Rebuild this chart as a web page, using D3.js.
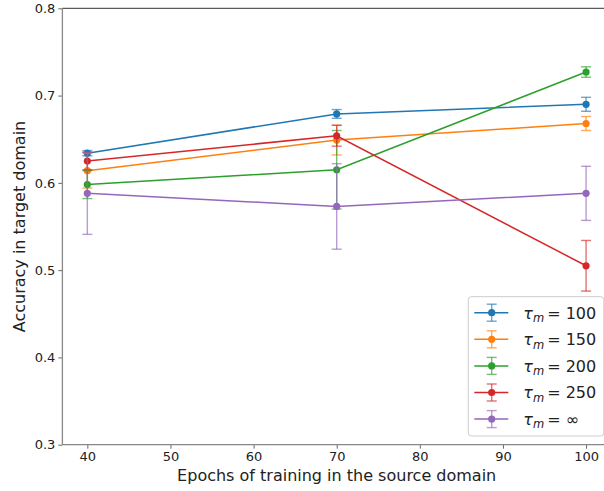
<!DOCTYPE html>
<html>
<head>
<meta charset="utf-8">
<script src="https://cdn.jsdelivr.net/npm/d3@7"></script>
<style>
  body { margin: 0; background: #fff; }
  svg { display: block; font-family: "DejaVu Sans", sans-serif; }
  .tick text { font-size: 13px; fill: #222; }
</style>
</head>
<body>
<svg id="chart" width="604" height="491"></svg>
<script>
const epochs = [40, 70, 100];
const seriesNames = ['100', '150', '200', '250', '∞'];
const colors = ['#1f77b4', '#ff7f0e', '#2ca02c', '#d62728', '#9467bd'];
const accTau100 = [0.634, 0.679, 0.690];
const accTau150 = [0.614, 0.649, 0.668];
const accTau200 = [0.598, 0.615, 0.727];
const accTau250 = [0.625, 0.654, 0.505];
const accTauInf = [0.588, 0.573, 0.588];
const errTau100 = [0.003, 0.005, 0.008];
const errTau150 = [0.020, 0.017, 0.008];
const errTau200 = [0.016, 0.045, 0.006];
const errTau250 = [0.010, 0.012, 0.029];
const errTauInf = [0.047, 0.049, 0.031];
const xTicks = [40, 50, 60, 70, 80, 90, 100];
const yTicks = [0.3, 0.4, 0.5, 0.6, 0.7, 0.8];

const accs = [accTau100, accTau150, accTau200, accTau250, accTauInf];
const errs = [errTau100, errTau150, errTau200, errTau250, errTauInf];
const series = seriesNames.map((name, i) => ({
  name, color: colors[i],
  points: epochs.map((e, j) => ({ x: e, y: accs[i][j], err: errs[i][j] })),
}));

const margin = { top: 8.3, left: 62.4 };
const width = 548.6;
const height = 436.4;

const svg = d3.select('#chart');
const g = svg.append('g').attr('transform', `translate(${margin.left},${margin.top})`);

const x = d3.scaleLinear().domain([37, 103]).range([0, width]);
const y = d3.scaleLinear().domain([0.3, 0.8]).range([height, 0]);

// axes
const xAxis = g.append('g')
  .attr('transform', `translate(0,${height})`)
  .call(d3.axisBottom(x).tickValues(xTicks).tickSize(4).tickPadding(3).tickFormat(d3.format('d')));
const yAxis = g.append('g')
  .call(d3.axisLeft(y).tickValues(yTicks).tickSize(4).tickPadding(3).tickFormat(d3.format('.1f')));
[xAxis, yAxis].forEach((a) => {
  a.select('.domain').remove();
  a.selectAll('.tick line').attr('stroke', '#555').attr('stroke-width', 0.9);
  a.selectAll('.tick text').attr('font-family', 'DejaVu Sans');
});

// spines
g.append('line').attr('x1', 0).attr('x2', width).attr('y1', 0).attr('y2', 0)
  .attr('stroke', '#333').attr('stroke-width', 1);
g.append('line').attr('x1', 0).attr('x2', 0).attr('y1', 0).attr('y2', height)
  .attr('stroke', '#888').attr('stroke-width', 1.3);
g.append('line').attr('x1', 0).attr('x2', width).attr('y1', height).attr('y2', height)
  .attr('stroke', '#888').attr('stroke-width', 1.3);

const line = d3.line().x((d) => x(d.x)).y((d) => y(d.y));
const capW = 5;

series.forEach((s) => {
  const sg = g.append('g');
  // error bars
  const eb = sg.selectAll('.eb').data(s.points).enter().append('g')
    .attr('stroke', s.color).attr('stroke-width', 1.4).attr('stroke-opacity', 0.65);
  eb.append('line')
    .attr('x1', (d) => x(d.x)).attr('x2', (d) => x(d.x))
    .attr('y1', (d) => y(d.y - d.err)).attr('y2', (d) => y(d.y + d.err));
  eb.append('line')
    .attr('x1', (d) => x(d.x) - capW).attr('x2', (d) => x(d.x) + capW)
    .attr('y1', (d) => y(d.y - d.err)).attr('y2', (d) => y(d.y - d.err));
  eb.append('line')
    .attr('x1', (d) => x(d.x) - capW).attr('x2', (d) => x(d.x) + capW)
    .attr('y1', (d) => y(d.y + d.err)).attr('y2', (d) => y(d.y + d.err));
  sg.append('path').datum(s.points)
    .attr('d', line).attr('fill', 'none')
    .attr('stroke', s.color).attr('stroke-width', 1.5);
  sg.selectAll('circle').data(s.points).enter().append('circle')
    .attr('cx', (d) => x(d.x)).attr('cy', (d) => y(d.y)).attr('r', 3.6)
    .attr('fill', s.color);
});

// axis labels
svg.append('text')
  .attr('x', margin.left + width / 2).attr('y', 481)
  .attr('text-anchor', 'middle').attr('font-size', 16).attr('fill', '#222')
  .text('Epochs of training in the source domain');
svg.append('text')
  .attr('transform', `translate(25,${margin.top + height / 2}) rotate(-90)`)
  .attr('text-anchor', 'middle').attr('font-size', 16).attr('fill', '#222')
  .text('Accuracy in target domain');

// legend
const lg = svg.append('g').attr('transform', 'translate(468.3,296.7)');
lg.append('rect').attr('width', 135.5).attr('height', 139.3).attr('rx', 3)
  .attr('fill', '#fff').attr('fill-opacity', 0.85)
  .attr('stroke', '#ccc').attr('stroke-width', 1);
const items = lg.selectAll('.item').data(series).enter().append('g')
  .attr('transform', (d, i) => `translate(0,${16 + i * 26.6})`);
items.append('line').attr('x1', 6).attr('x2', 40).attr('y1', 0).attr('y2', 0)
  .attr('stroke', (d) => d.color).attr('stroke-width', 1.5);
items.append('g').attr('stroke', (d) => d.color).attr('stroke-opacity', 0.65).attr('stroke-width', 1.4)
  .call((e) => {
    e.append('line').attr('x1', 23.4).attr('x2', 23.4).attr('y1', -8.5).attr('y2', 8.5);
    e.append('line').attr('x1', 18.4).attr('x2', 28.4).attr('y1', -8.5).attr('y2', -8.5);
    e.append('line').attr('x1', 18.4).attr('x2', 28.4).attr('y1', 8.5).attr('y2', 8.5);
  });
items.append('circle').attr('cx', 23.4).attr('cy', 0).attr('r', 3.6)
  .attr('fill', (d) => d.color);
const t = items.append('text').attr('x', 55).attr('y', 5.8)
  .attr('font-size', 16).attr('fill', '#222');
t.append('tspan').attr('font-style', 'italic').text('τ');
t.append('tspan').attr('font-style', 'italic').attr('font-size', 11.5).attr('dy', 3.5).text('m');
t.append('tspan').attr('dy', -3.5).attr('dx', 3).text((d) => `= ${d.name}`);
</script>
</body>
</html>
